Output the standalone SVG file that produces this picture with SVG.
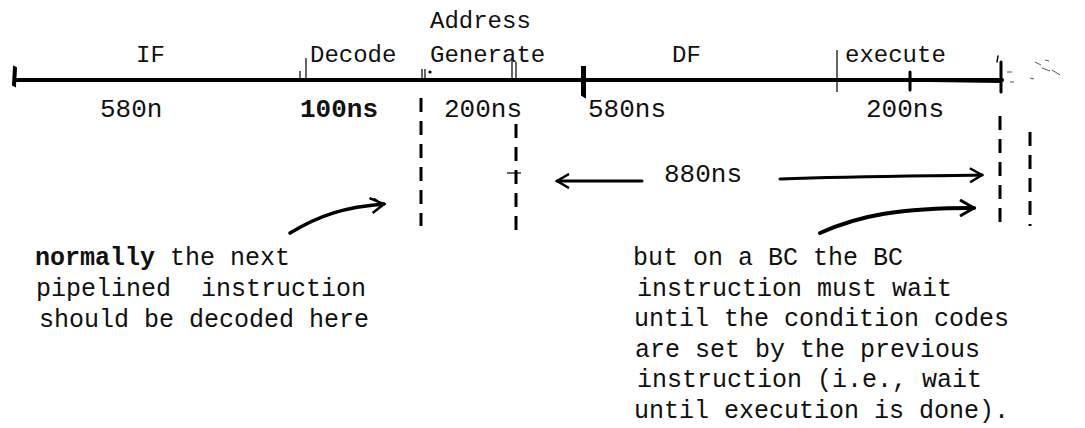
<svg xmlns="http://www.w3.org/2000/svg" width="1085" height="428" viewBox="0 0 1085 428">
<style>
text{font-family:"Liberation Mono","Courier New",monospace;font-size:25px;fill:#111;white-space:pre}
.lab{font-size:24px}
.val{font-size:26px}
.b{font-weight:bold}
.ln{stroke:#000;fill:none;stroke-linecap:round;stroke-linejoin:round}
.dash{stroke:#000;stroke-width:3;stroke-dasharray:14 9;fill:none}
.thin{stroke:#000;stroke-width:1.2;fill:none}
.speck{stroke:#555;stroke-width:1;fill:none}
</style>
<defs>
<marker id="open" viewBox="0 0 16 16" refX="14" refY="8" markerWidth="16" markerHeight="16" markerUnits="userSpaceOnUse" orient="auto">
<path d="M2,1 L14,8 L2,15" fill="none" stroke="#000" stroke-width="2.5"/>
</marker>
<marker id="dbl" viewBox="0 0 18 18" refX="15" refY="9" markerWidth="18" markerHeight="18" markerUnits="userSpaceOnUse" orient="auto">
<path d="M1,2 L15,9 L3,17 M5,3 L12,8" fill="none" stroke="#000" stroke-width="2.5"/>
</marker>
<marker id="fill" viewBox="0 0 18 18" refX="16" refY="9" markerWidth="18" markerHeight="18" markerUnits="userSpaceOnUse" orient="auto">
<path d="M2,1 L16,9 L2,17" fill="none" stroke="#000" stroke-width="3"/>
</marker>
</defs>
<g id="timeline">
<line class="ln" x1="17" y1="80" x2="1002" y2="80" stroke-width="4"/>
<path d="M14,67 L16,68 L15,86 L13,85 Z" fill="#000" stroke="#000" stroke-width="2"/>
<line class="thin" x1="300" y1="71" x2="300" y2="80"/>
<line class="thin" x1="306" y1="58" x2="306" y2="80"/>
<line class="thin" x1="422" y1="69" x2="422" y2="80"/>
<line class="thin" x1="425" y1="69" x2="425" y2="80"/>
<circle cx="430" cy="72" r="1.6" fill="#000"/>
<line class="thin" x1="512" y1="58" x2="512" y2="80"/>
<line class="thin" x1="516" y1="62" x2="516" y2="80"/>
<path d="M582,67 L585,67 L585,97 L582,95 Z" fill="#000" stroke="#000" stroke-width="2"/>
<line class="thin" x1="837" y1="50" x2="837" y2="92"/>
<line class="ln" x1="910" y1="72" x2="910" y2="90" stroke-width="3"/>
<path d="M930,79 L1000,78 L1000,83 L930,82 Z" fill="#000"/>
<line class="ln" x1="1001" y1="62" x2="1001" y2="92" stroke-width="3"/>
<line class="ln" x1="998" y1="56" x2="997" y2="62" stroke-width="1.5"/>
<path class="speck" d="M1007,72 L1012,72 M1010,82 L1014,82 M1035,62 L1041,65 M1042,68 L1050,71 M1052,70 L1060,75 M1030,78 L1034,79 M1045,60 L1049,61"/>
</g>
<g id="labels-top">
<text class="lab" x="136" y="62">IF</text>
<text class="lab" x="310" y="62">Decode</text>
<text class="lab" x="430" y="28">Address</text>
<text class="lab" x="430" y="62">Generate</text>
<text class="lab" x="672" y="62">DF</text>
<text class="lab" x="845" y="62">execute</text>
</g>
<g id="labels-bottom">
<text class="val" x="100" y="117">580n</text>
<text class="val b" x="300" y="117">100ns</text>
<text class="val" x="444" y="117">200ns</text>
<text class="val" x="588" y="117">580ns</text>
<text class="val" x="866" y="117">200ns</text>
</g>
<g id="connectors">
<line class="dash" x1="421" y1="98" x2="421" y2="226"/>
<line class="dash" x1="516" y1="124" x2="516" y2="232"/>
<line class="thin" x1="507" y1="173" x2="521" y2="173"/>
<line class="dash" x1="1000" y1="116" x2="1000" y2="222"/>
<line class="dash" x1="1030" y1="132" x2="1030" y2="226"/>
<path class="ln" d="M290,233 C320,215 345,207 384,204" stroke-width="3.5" marker-end="url(#dbl)"/>
<path class="ln" d="M642,181 L557,181" stroke-width="3" marker-end="url(#open)"/>
<path class="ln" d="M780,179 C860,176 930,176 982,175" stroke-width="3" marker-end="url(#open)"/>
<path class="ln" d="M820,233 C860,215 900,208 974,208" stroke-width="4" marker-end="url(#fill)"/>
</g>
<g id="label-880">
<text class="val" x="664" y="182">880ns</text>
</g>
<g id="note-left">
<text x="35" y="265"><tspan class="b">normally</tspan> the next</text>
<text x="36" y="296">pipelined  instruction</text>
<text x="39" y="327">should be decoded here</text>
</g>
<g id="note-right">
<text x="633" y="265">but on a BC the BC</text>
<text x="637" y="296">instruction must wait</text>
<text x="634" y="326">until the condition codes</text>
<text x="635" y="357">are set by the previous</text>
<text x="637" y="387">instruction (i.e., wait</text>
<text x="634" y="418">until execution is done).</text>
</g>
</svg>
